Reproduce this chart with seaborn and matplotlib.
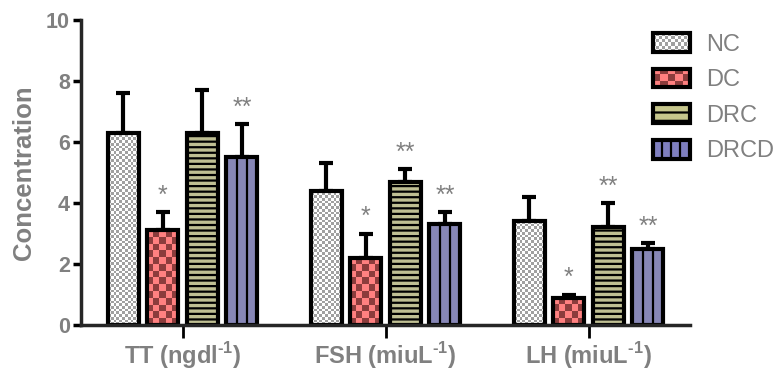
import numpy as np
import pandas as pd
import matplotlib
matplotlib.use('Agg')
import matplotlib.pyplot as plt
import seaborn as sns
from matplotlib.patches import Rectangle
from matplotlib.legend_handler import HandlerPatch
from matplotlib.image import BboxImage
from matplotlib.transforms import Bbox, TransformedBbox

# hormone groups on the x axis
grupes = ['TT (ngdl$^{\\mathbf{\u20101}}$)', 'FSH (miuL$^{\\mathbf{\u20101}}$)', 'LH (miuL$^{\\mathbf{\u20101}}$)']
grupes_kodai = ['TT', 'FSH', 'LH']
gydymai = ['NC', 'DC', 'DRC', 'DRCD']

# mean values per treatment (TT, FSH, LH)
nc = [6.3, 4.4, 3.4]
dc = [3.1, 2.2, 0.9]
drc = [6.3, 4.7, 3.2]
drcd = [5.5, 3.3, 2.5]

# upper error (SD) per treatment
nc_err = [1.3, 0.9, 0.8]
dc_err = [0.6, 0.8, 0.1]
drc_err = [1.4, 0.4, 0.8]
drcd_err = [1.1, 0.4, 0.2]

# significance marks
nc_zv = ['', '', '']
dc_zv = ['*', '*', '*']
drc_zv = ['', '**', '**']
drcd_zv = ['**', '**', '**']

reiksmes = [nc, dc, drc, drcd]
klaidos = [nc_err, dc_err, drc_err, drcd_err]
zvaigzdes = [nc_zv, dc_zv, drc_zv, drcd_zv]

pilka = '#808080'

df = pd.DataFrame({
    'grupe': [g for _ in gydymai for g in grupes_kodai],
    'gydymas': [t for t in gydymai for _ in grupes_kodai],
    'reiksme': [v for r in reiksmes for v in r],
})

sns.set_style('ticks')
plt.rcParams['font.family'] = ['Liberation Sans', 'DejaVu Sans']
plt.rcParams['mathtext.fontset'] = 'custom'
plt.rcParams['mathtext.rm'] = 'Liberation Sans'
plt.rcParams['mathtext.bf'] = 'Liberation Sans:bold'
plt.rcParams['hatch.linewidth'] = 1.6

fig = plt.figure(figsize=(7.78, 3.70), dpi=100)
ax = fig.add_axes([81 / 778, 45 / 370, (690 - 81) / 778, (325 - 20) / 370])

spalvos = ['#ffffff', '#ff8080', '#c6c68c', '#7f7fbf']
sns.barplot(data=df, x='grupe', y='reiksme', hue='gydymas', errorbar=None,
            palette=spalvos, width=0.78, gap=0.22, edgecolor='black',
            linewidth=3, legend=False, ax=ax)

ax.set_xlim(-0.5, 2.5)
ax.set_ylim(0, 10)

# checker patterns for NC and DC
languotumas = {
    0: ('#ffffff', '#a0a0a0', 2.7),
    1: ('#ff8080', '#8c3c3c', 6.7),
}


def languotas_rgb(c1, c2, nx, ny):
    a = np.array(matplotlib.colors.to_rgb(c1))
    b = np.array(matplotlib.colors.to_rgb(c2))
    mask = (np.indices((ny, nx)).sum(axis=0) % 2).astype(bool)
    rgb = np.where(mask[..., None], b, a)
    return rgb


fig.canvas.draw()
for i, konteineris in enumerate(ax.containers):
    for stulpelis in konteineris:
        x0, x1 = stulpelis.get_x(), stulpelis.get_x() + stulpelis.get_width()
        y1 = stulpelis.get_height()
        if i in languotumas:
            c1, c2, dydis = languotumas[i]
            p0 = ax.transData.transform((x0, 0))
            p1 = ax.transData.transform((x1, y1))
            nx = max(1, int(round((p1[0] - p0[0]) / dydis)))
            ny = max(1, int(round((p1[1] - p0[1]) / dydis)))
            rgb = languotas_rgb(c1, c2, nx, ny)
            im = ax.imshow(rgb, extent=(x0, x1, 0, y1), aspect='auto',
                           interpolation='nearest', zorder=stulpelis.get_zorder() - 0.1)
            im.set_clip_path(stulpelis)
            stulpelis.set_facecolor('none')
        elif i == 2:
            stulpelis.set_hatch('---')
        elif i == 3:
            # two vertical lines splitting the bar in thirds
            w = x1 - x0
            ax.vlines([x0 + w / 3, x0 + 2 * w / 3], 0, y1, color='black', linewidth=1.6,
                      zorder=stulpelis.get_zorder() + 0.1)

ax.set_xlim(-0.5, 2.5)
ax.set_ylim(0, 10)

# error bars (upper only) and significance marks
for konteineris, klaida, zv in zip(ax.containers, klaidos, zvaigzdes):
    xs = [s.get_x() + s.get_width() / 2 for s in konteineris]
    ys = [s.get_height() for s in konteineris]
    ax.errorbar(xs, ys, yerr=[np.zeros(len(ys)), klaida], fmt='none', ecolor='black',
                elinewidth=3, capsize=5, capthick=3, zorder=0.5)
    for x, y, e, z in zip(xs, ys, klaida, zv):
        if z:
            ax.text(x, y + e + 0.3, z, ha='center', va='baseline', color=pilka, fontsize=18)

sns.despine(ax=ax)
for kr in ['left', 'bottom']:
    ax.spines[kr].set_linewidth(2.5)
ax.set_yticks([0, 2, 4, 6, 8, 10])
ax.set_xticks([0, 1, 2])
ax.set_xticklabels(grupes)
ax.tick_params(axis='y', length=6, width=2.5, colors='black', labelcolor=pilka, labelsize=15.5, pad=2)
ax.tick_params(axis='x', length=9, width=2, colors='black', labelcolor=pilka, labelsize=17, pad=2)
for t in ax.get_xticklabels() + ax.get_yticklabels():
    t.set_fontweight('bold')
ax.set_xlabel('')
ax.set_ylabel('Concentration', fontsize=18.5, fontweight='bold', color=pilka, labelpad=7)


class LanguotasHandler(HandlerPatch):
    def __init__(self, c1, c2, nx, ny):
        super().__init__()
        self.rgb = languotas_rgb(c1, c2, nx, ny)

    def create_artists(self, legend, orig_handle, xdescent, ydescent, width, height, fontsize, trans):
        deze = TransformedBbox(Bbox.from_bounds(-xdescent, -ydescent, width, height), trans)
        img = BboxImage(deze, interpolation='nearest')
        img.set_data(self.rgb)
        remas = Rectangle((-xdescent, -ydescent), width, height, facecolor='none',
                          edgecolor='black', linewidth=3, transform=trans)
        return [img, remas]


class JuostuHandler(HandlerPatch):
    def create_artists(self, legend, orig_handle, xdescent, ydescent, width, height, fontsize, trans):
        fonas = Rectangle((-xdescent, -ydescent), width, height, facecolor=spalvos[3],
                          edgecolor='black', linewidth=3, transform=trans)
        linijos = [Rectangle((-xdescent + width * k / 4, -ydescent), 0, height, facecolor='none',
                             edgecolor='black', linewidth=1.6, transform=trans) for k in (1, 2, 3)]
        return [fonas] + linijos


rankenos = [Rectangle((0, 0), 1, 1, facecolor='white', edgecolor='black', linewidth=3),
            Rectangle((0, 0), 1, 1, facecolor='white', edgecolor='black', linewidth=3),
            Rectangle((0, 0), 1, 1, facecolor=spalvos[2], edgecolor='black', linewidth=3, hatch='--'),
            Rectangle((0, 0), 1, 1, facecolor=spalvos[3], edgecolor='black', linewidth=3)]
leg = fig.legend(rankenos, gydymai, loc='upper left', bbox_to_anchor=(653 / 778, 1 - 33 / 370),
                 frameon=False, fontsize=17, handlelength=1.55, handleheight=0.85,
                 handletextpad=0.7, labelspacing=0.55, borderpad=0, borderaxespad=0,
                 handler_map={rankenos[0]: LanguotasHandler('#ffffff', '#a0a0a0', 12, 6),
                              rankenos[1]: LanguotasHandler('#ff8080', '#8c3c3c', 5, 3),
                              rankenos[3]: JuostuHandler()})
for t in leg.get_texts():
    t.set_color(pilka)

fig.savefig('out.png', dpi=100)
